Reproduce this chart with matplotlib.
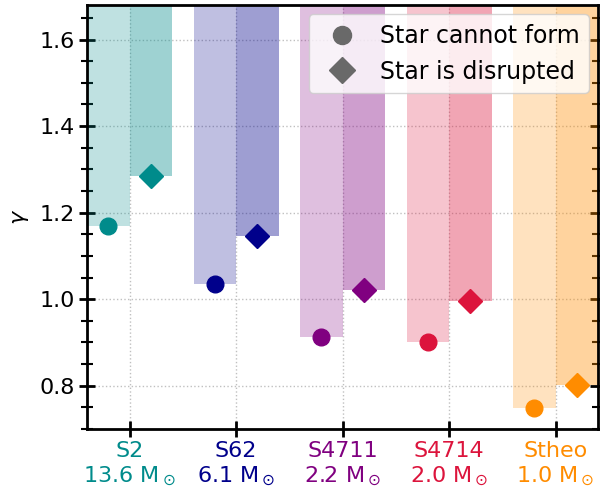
import numpy as np
import matplotlib.pyplot as plt
from matplotlib.lines import Line2D
from matplotlib.ticker import MultipleLocator

stars = ['S2', 'S62', 'S4711', 'S4714', 'Stheo']
masses = ['13.6', '6.1', '2.2', '2.0', '1.0']
colors = ['darkcyan', 'darkblue', 'purple', 'crimson', 'darkorange']
gamma_form = [1.168, 1.035, 0.913, 0.902, 0.749]
gamma_disrupt = [1.285, 1.146, 1.020, 0.996, 0.802]

top = 1.68
fig, ax = plt.subplots(figsize=(6, 4.97), dpi=100)
x = np.arange(len(stars))
w = 0.4

for i, c in enumerate(colors):
    ax.bar(x[i] - w, top - gamma_form[i], bottom=gamma_form[i], width=w, align='edge',
           color=c, alpha=0.25, zorder=1)
    ax.bar(x[i], top - gamma_disrupt[i], bottom=gamma_disrupt[i], width=w, align='edge',
           color=c, alpha=0.38, zorder=1)
    ax.plot(x[i] - w / 2, gamma_form[i], 'o', color=c, ms=12, zorder=3)
    ax.plot(x[i] + w / 2, gamma_disrupt[i], 'D', color=c, ms=12.5, zorder=3)

ax.set_xlim(-0.4, 4.4)
ax.set_ylim(0.70, top)
ax.set_xticks(x)
ax.set_xticklabels([f'{s}\n{m} M$_\\odot$' for s, m in zip(stars, masses)])
for lab, c in zip(ax.get_xticklabels(), colors):
    lab.set_color(c)
ax.yaxis.set_major_locator(MultipleLocator(0.2))
ax.yaxis.set_minor_locator(MultipleLocator(0.05))
ax.tick_params(axis='both', which='both', direction='inout', labelsize=16, width=2,
               right=True)
ax.tick_params(which='major', length=11)
ax.tick_params(which='minor', length=8, width=1.5)
ax.grid(True, linestyle=':', color='#c0c0c0', linewidth=1, zorder=0)
ax.set_axisbelow(True)
for sp in ax.spines.values():
    sp.set_linewidth(2)
ax.set_ylabel(r'$\gamma$', fontsize=16, labelpad=6)

handles = [Line2D([], [], marker='o', ls='', color='dimgray', ms=13),
           Line2D([], [], marker='D', ls='', color='dimgray', ms=13)]
ax.legend(handles, ['Star cannot form', 'Star is disrupted'], loc='upper right',
          fontsize=17, framealpha=0.8, handletextpad=0.6, borderaxespad=0.4)

fig.subplots_adjust(left=0.145, right=0.997, top=0.99, bottom=0.137)
fig.savefig('out.png', dpi=100)
